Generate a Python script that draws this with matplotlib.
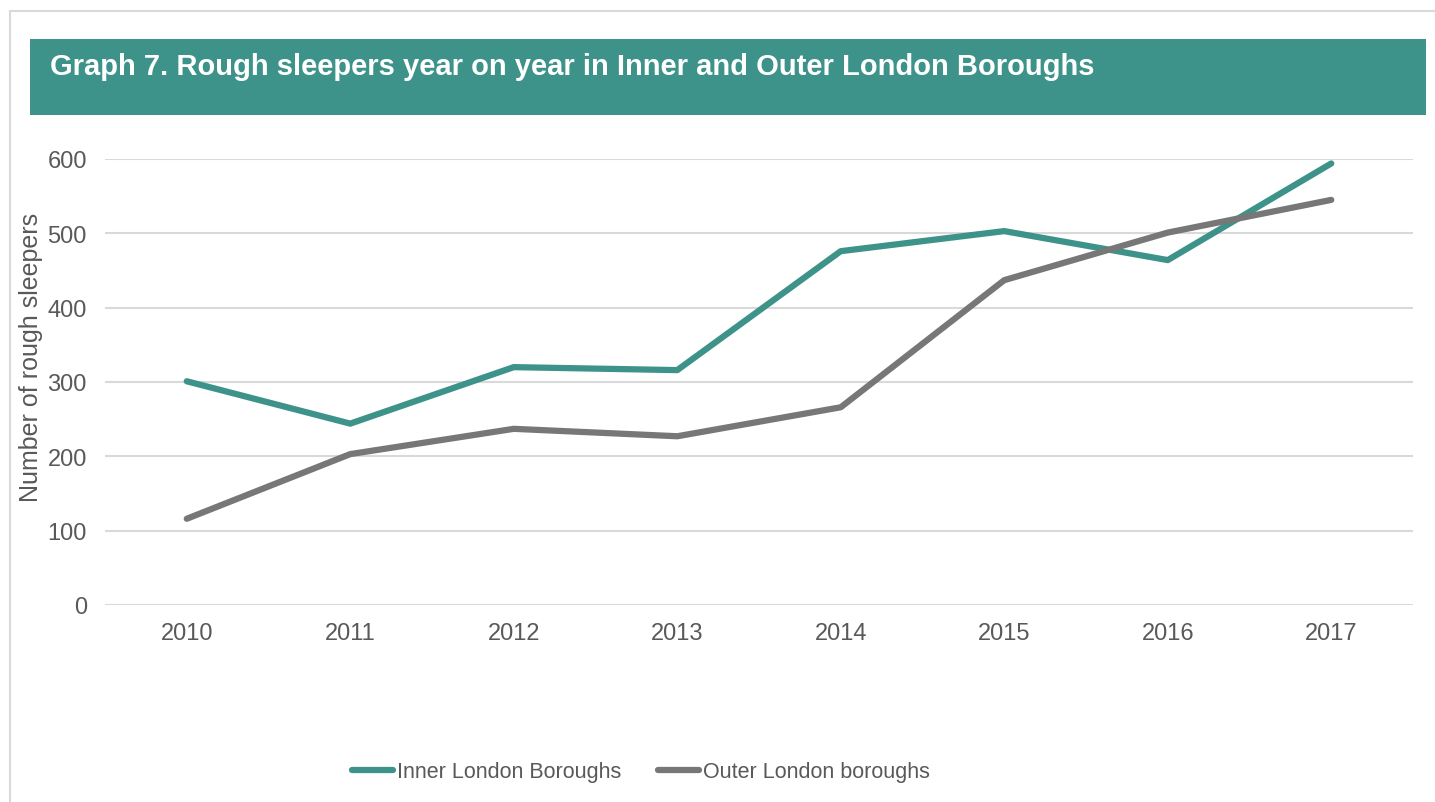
import matplotlib
matplotlib.use("Agg")
import matplotlib.pyplot as plt
from matplotlib.patches import Rectangle
from matplotlib.lines import Line2D

years = ["2010", "2011", "2012", "2013", "2014", "2015", "2016", "2017"]
inner = [301, 244, 320, 316, 476, 503, 464, 594]
outer = [116, 203, 237, 227, 266, 437, 501, 545]
series_names = ["Inner London Boroughs", "Outer London boroughs"]
title = "Graph 7. Rough sleepers year on year in Inner and Outer London Boroughs"
ylabel = "Number of rough sleepers"
yticks = [0, 100, 200, 300, 400, 500, 600]

TEAL = "#3d9389"
GREY = "#777777"
TXT = "#595959"

plt.rcParams['font.family'] = ['Liberation Sans', 'DejaVu Sans']

W, H = 1435, 803
fig = plt.figure(figsize=(W / 100, H / 100), dpi=100)

def fx(x): return x / W
def fy(y): return 1 - y / H

# outer border
fig.add_artist(Line2D([fx(10), fx(10)], [fy(12), 0], transform=fig.transFigure, color="#d9d9d9", lw=1.5))
fig.add_artist(Line2D([fx(10), 1], [fy(12), fy(12)], transform=fig.transFigure, color="#d9d9d9", lw=1.5))

# title band
fig.add_artist(Rectangle((fx(30), fy(116)), fx(1426) - fx(30), fy(40) - fy(116),
                         transform=fig.transFigure, facecolor=TEAL, edgecolor="none"))
fig.text(fx(50), fy(67), title, color="white", fontsize=21, fontweight="bold",
         va="center", ha="left")

ax = fig.add_axes([fx(105), fy(606), fx(1413) - fx(105), fy(160) - fy(606)])
x = list(range(len(years)))
ax.plot(x, inner, color=TEAL, lw=4.5, solid_capstyle="round", solid_joinstyle="round", label=series_names[0], zorder=3)
ax.plot(x, outer, color=GREY, lw=4.5, solid_capstyle="round", solid_joinstyle="round", label=series_names[1], zorder=3)
ax.set_xlim(-0.5, len(years) - 0.5)
ax.set_ylim(0, 600)
ax.set_yticks(yticks)
ax.set_xticks(x)
ax.set_xticklabels(years)
ax.grid(axis="y", color="#d9d9d9", lw=1.5)
ax.set_axisbelow(True)
for s in ax.spines.values():
    s.set_visible(False)
ax.tick_params(axis="both", length=0, labelsize=17, labelcolor=TXT)
ax.tick_params(axis="y", pad=13)
ax.tick_params(axis="x", pad=12)
ax.set_ylabel(ylabel, fontsize=18, color=TXT, va="center")
ax.yaxis.set_label_coords((fx(31) - fx(105)) / (fx(1413) - fx(105)), (606 - 357) / 446)

leg = fig.legend(loc="center", bbox_to_anchor=(fx(641), fy(773)), ncol=2, frameon=False,
                 fontsize=15.5, handlelength=1.9, handletextpad=0.18, columnspacing=1.7,
                 labelcolor=TXT)
for h in leg.get_lines():
    h.set_linewidth(4.5)

fig.savefig("out.png", dpi=100)
